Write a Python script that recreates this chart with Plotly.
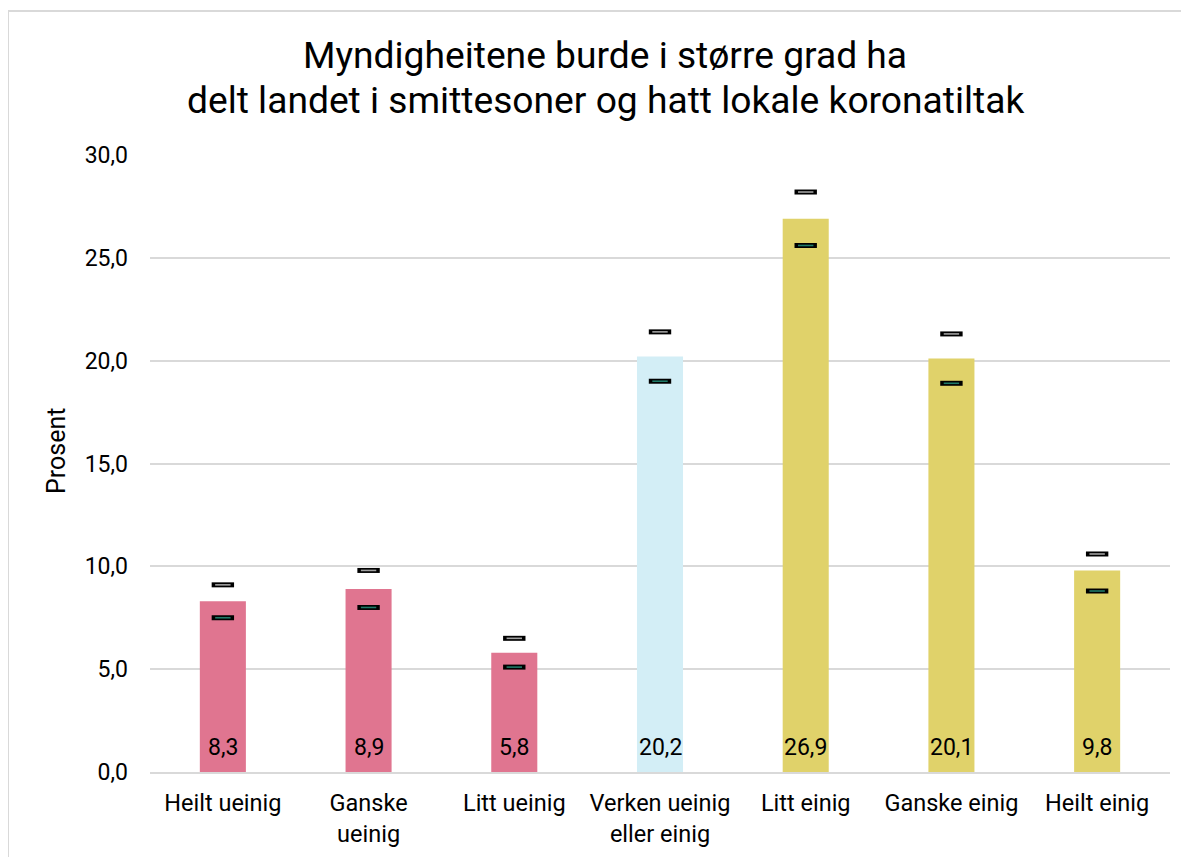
import plotly.graph_objects as go

categories = ["Heilt ueinig", "Ganske<br>ueinig", "Litt ueinig", "Verken ueinig<br>eller einig",
              "Litt einig", "Ganske einig", "Heilt einig"]
values = [8.3, 8.9, 5.8, 20.2, 26.9, 20.1, 9.8]
upper = [9.1, 9.8, 6.5, 21.4, 28.2, 21.3, 10.6]
lower = [7.5, 8.0, 5.1, 19.0, 25.6, 18.9, 8.8]
colors = ["#E07590", "#E07590", "#E07590", "#D3EEF6", "#E0D26A", "#E0D26A", "#E0D26A"]
title_lines = ["Myndigheitene burde i større grad ha",
               "delt landet i smittesoner og hatt lokale koronatiltak"]
y_ticks = [0, 5, 10, 15, 20, 25, 30]

FONT = "Roboto"
W, H = 1189, 857
OFF = 8  # page body margin
L, R, T, B = 150 - OFF, W - 1170 + OFF, 155 - OFF, H - 772 + OFF
PW, PH = W - L - R, H - T - B

fig = go.Figure()
fig.add_trace(go.Bar(x=categories, y=values, marker=dict(color=colors, line=dict(width=0)),
                     showlegend=False, hoverinfo="skip"))

# CI markers: black outline then coloured interior
for ys, inner in ((upper, "#A0A0A0"), (lower, "#1F7A68")):
    fig.add_trace(go.Scatter(x=categories, y=ys, mode="markers", showlegend=False,
                             marker=dict(symbol="line-ew", size=16,
                                         line=dict(width=5, color="#000000"))))
    fig.add_trace(go.Scatter(x=categories, y=ys, mode="markers", showlegend=False,
                             marker=dict(symbol="line-ew", size=11,
                                         line=dict(width=1.6, color=inner))))

for c, v in zip(categories, values):
    fig.add_annotation(x=c, y=0, yref="y", xref="x", text=f"{v:.1f}".replace(".", ","),
                       showarrow=False, yanchor="bottom", yshift=9,
                       font=dict(family=FONT, size=23, color="#000000"))

fig.add_annotation(x=(56 - 150) / PW, y=(772 - 451) / PH, xref="paper", yref="paper",
                   text="Prosent", textangle=-90, showarrow=False,
                   xanchor="center", yanchor="middle",
                   font=dict(family=FONT, size=25, color="#000000"))

# title lines (page y centres)
for line, yc in zip(title_lines, (55, 100)):
    fig.add_annotation(x=(605 - 150) / PW, y=(772 - yc) / PH, xref="paper", yref="paper",
                       text=line, showarrow=False, xanchor="center", yanchor="middle",
                       font=dict(family=FONT, size=37.2, color="#000000"))

# outer border
fig.add_shape(type="rect", xref="paper", yref="paper",
              x0=(8 - 150) / PW, x1=(1200 - 150) / PW,
              y0=(772 - 900) / PH, y1=(772 - 11) / PH,
              line=dict(color="#D9D9D9", width=2), fillcolor="rgba(0,0,0,0)", layer="below")

fig.update_layout(
    width=W, height=H,
    margin=dict(l=L, r=R, t=T, b=B),
    paper_bgcolor="white", plot_bgcolor="white",
    separators=", ",
    bargap=0.684,
    font=dict(family=FONT, color="#000000"),
    xaxis=dict(showgrid=False, showline=True, linecolor="#D9D9D9", linewidth=2,
               tickfont=dict(family=FONT, size=23.5, color="#000000"),
               ticklabelstandoff=9, zeroline=False),
    yaxis=dict(range=[0, 30], tickvals=y_ticks, tickformat=".1f",
               showgrid=True, gridcolor="#D9D9D9", gridwidth=1.5, zeroline=False,
               showline=False, tickfont=dict(family=FONT, size=23, color="#000000"),
               ticklabelstandoff=21),
)

fig.write_html("out.html")
